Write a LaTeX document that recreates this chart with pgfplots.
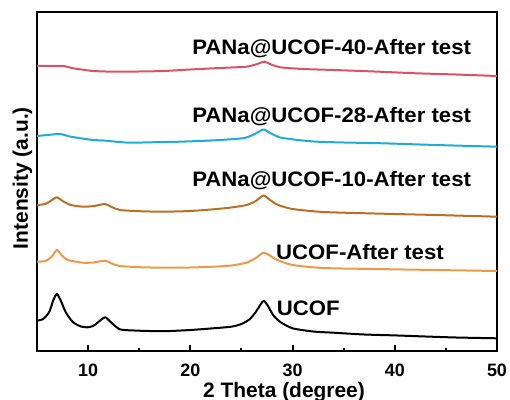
\documentclass[border=0pt]{standalone}
\usepackage{fontspec}
\setmainfont{Liberation Sans}
\usepackage{pgfplots}
\pgfplotsset{compat=1.18}

\definecolor{cRed}{RGB}{218,82,104}
\definecolor{cBlue}{RGB}{30,170,220}
\definecolor{cBrown}{RGB}{190,110,35}
\definecolor{cOrange}{RGB}{238,152,72}

\begin{document}
\begin{tikzpicture}
\useasboundingbox (-37bp,-49bp) rectangle (473bp,351bp);
\begin{axis}[
  at={(0,0)}, anchor=south west,
  scale only axis, width=460bp, height=339bp,
  xmin=5, xmax=50, ymin=49, ymax=388,
  axis line style={line width=2.2bp},
  xtick={10,20,30,40,50}, minor xtick={15,25,35,45},
  ytick=\empty, tick pos=left, tick align=inside,
  major tick length=6bp, minor tick length=3.5bp,
  every tick/.style={black, line width=2bp},
  /pgf/number format/assume math mode=true,
  xticklabel style={font=\fontsize{18}{20}\selectfont\bfseries, anchor=base, yshift=-25bp},
  xlabel={2 Theta (degree)}, ylabel={Intensity (a.u.)},
  xlabel style={font=\fontsize{21}{24}\selectfont\bfseries, at={(axis description cs:0.537,-0.1357)}, anchor=base},
  ylabel style={font=\fontsize{21}{24}\selectfont\bfseries, at={(axis description cs:-0.0196,0.51)}, anchor=base},
  every axis plot/.append style={line width=2bp, line join=round, smooth, tension=0.4},
  clip=false,
]
% UCOF
\addplot[black] coordinates {
(5,79.3) (5.6,81) (6.2,88) (6.6,100) (6.94,106) (7.3,100) (7.8,88) (8.5,78)
(9.3,73.5) (9.9,72.7) (10.5,74) (11.0,78) (11.66,82.7) (12.2,78) (13.1,70.7)
(14.5,69.5) (16,69) (18,69) (20,70) (22,71.5) (24,73.3) (25,76) (25.8,80.7)
(26.4,88) (26.9,96) (27.2,99.3) (27.6,94) (28.1,85) (28.8,78) (30,71.7)
(32,68.5) (34,67.3) (37,65.5) (40,64.6) (43,63.5) (46,62.5) (50,61.7)};
% UCOF after test
\addplot[cOrange] coordinates {
(5,138.3) (5.8,139) (6.4,143) (6.94,150) (7.4,145) (8.0,140) (9.5,137.3)
(10.5,137.5) (11.66,139.3) (12.3,136.5) (13.1,134) (15,132.8) (17.4,132.3)
(20,132.5) (22.25,133.3) (24,134.5) (25.5,137.3) (26.4,142) (27.15,147.3)
(27.7,145) (28.5,140) (30,135) (33,132) (38,131) (44,130) (50,129)};
% PANa@UCOF-10 after test
\addplot[cBrown] coordinates {
(5,195) (5.8,196) (6.4,199.5) (6.94,202.7) (7.5,199) (8.3,195) (9.5,193.3)
(10.6,194) (11.66,196) (12.3,193) (13.1,190) (15,188.8) (17.4,188.3) (20,189)
(22.25,190.7) (24,192.5) (25.5,195) (26.4,199) (27.15,204.5) (27.8,200)
(28.6,195) (30,191) (33,188) (38,186.5) (44,185) (50,183.3)};
% PANa@UCOF-28 after test
\addplot[cBlue] coordinates {
(5,264) (6.0,265) (7.26,266) (8.2,263.5) (9.3,261.7) (10.5,260) (11.5,259.5)
(12.5,258.5) (14.1,257.3) (16.5,257.8) (19,258.3) (22,259.5) (23.9,260.7)
(25.3,262) (26.2,265.5) (27.15,270.5) (27.8,267) (28.8,262.5) (30.5,260)
(32.4,258.3) (35,257.5) (38.8,256.7) (44,255) (50,253.3)};
% PANa@UCOF-40 after test
\addplot[cRed] coordinates {
(5,334) (6.5,334) (7.6,334) (8.4,332) (9.2,330.7) (10.5,329) (12.5,328.3)
(15,328.5) (17.4,329) (20,330.5) (22.25,331.7) (24,332.5) (25.5,333.3)
(26.4,335.5) (27.25,338.3) (27.9,335.5) (28.8,332.7) (31,331) (34,330)
(38,328.5) (42.1,326.7) (46,325.5) (50,324)};

\begin{scope}[every node/.style={anchor=base west, inner sep=0pt, xscale=1.06, font=\fontsize{21}{24}\selectfont\bfseries}]
\node at (axis cs:20.17,345) {PANa@UCOF-40-After test};
\node at (axis cs:20.17,277) {PANa@UCOF-28-After test};
\node at (axis cs:20.17,213) {PANa@UCOF-10-After test};
\node at (axis cs:28.38,140.7) {UCOF-After test};
\node at (axis cs:28.45,85) {UCOF};
\end{scope}
\end{axis}
\end{tikzpicture}
\end{document}
